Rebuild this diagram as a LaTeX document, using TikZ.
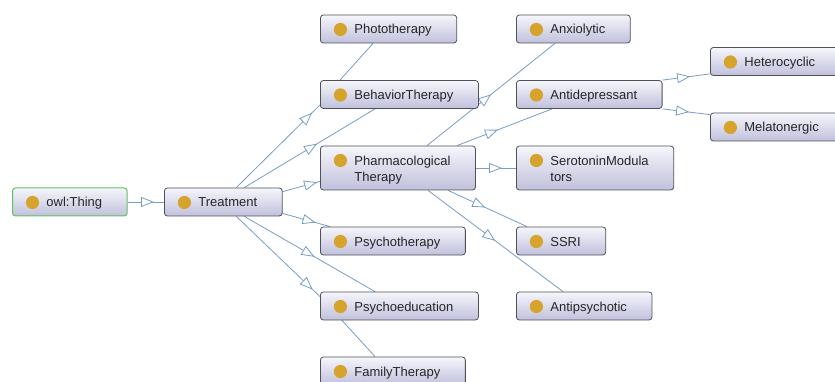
\documentclass[tikz,border=0pt]{standalone}
\usepackage{fontspec}
\setmainfont{Liberation Sans}
\usetikzlibrary{arrows.meta, calc, backgrounds, decorations.markings}
\definecolor{boxline}{RGB}{80,80,90}
\definecolor{boxtop}{RGB}{246,246,252}
\definecolor{boxbot}{RGB}{192,192,220}
\definecolor{thingline}{RGB}{95,195,95}
\definecolor{isacol}{RGB}{120,158,196}
\definecolor{dotcol}{RGB}{214,163,44}
\tikzset{
	x=1pt, y=-1pt, semithick,
	cls/.style ={anchor=west, draw=boxline, line width=0.8pt, rounded corners=3pt, top color=boxtop, bottom color=boxbot,
		minimum height=28pt, inner xsep=25pt, inner ysep=8pt, align=left, text=black!85,
		text height=10pt, text depth=0pt,
		font=\fontsize{13}{16}\selectfont, execute at begin node={\hspace*{9pt}},
		path picture={\fill[dotcol] ([shift={(20pt,-14.5pt)}]path picture bounding box.north west) circle (6.6pt);}},
	cls2/.style = {cls, text height=27.7pt, text depth=0.3pt},
	root/.style = {cls, draw=thingline, line width=1pt},
	tri/.tip = {Triangle[length=13pt, width=10pt, fill=white]},
	isa/.style = {draw=isacol, line width=0.8pt, rounded corners=0pt,
		postaction={decorate, decoration={markings, mark=at position #1 with {\arrow{tri}}}}}
}

\begin{document}
\begin{tikzpicture}
		\useasboundingbox (0,0) rectangle (835,382);
		\node[root] (thing) at (12,202) {owl:Thing};
		\node[cls] (treat) at (164,202) {Treatment};

		\node[cls] (photo) at (320,29) {Phototherapy};
		\node[cls] (behav) at (320,94.5) {BehaviorTherapy};
		\node[cls2] (pharm) at (320,168) {Pharmacological\\Therapy};
		\node[cls] (psyth) at (320,241) {Psychotherapy};
		\node[cls] (psyed) at (320,306) {Psychoeducation};
		\node[cls] (fam) at (320,371) {FamilyTherapy};

		\node[cls] (anxio) at (516,29) {Anxiolytic};
		\node[cls] (antidep) at (516,94.5) {Antidepressant};
		\node[cls2] (sero) at (516,168) {SerotoninModula\\tors};
		\node[cls] (ssri) at (516,241) {SSRI};
		\node[cls] (antipsy) at (516,306) {Antipsychotic};

		\node[cls] (hetero) at (710,61.5) {Heterocyclic};
		\node[cls] (melat) at (710,127) {Melatonergic};

		\begin{scope}[on background layer]
		\fill[white] (0,0) rectangle (835,382);
		% subclass edges
		\path[isa=-10pt] (thing) -- (treat);
		\path[isa=-11pt] ([xshift=13pt]treat.north) -- ([yshift=4pt]behav.south west);
		\path[isa=85pt] ([xshift=21pt]treat.north) -- ([xshift=55pt]behav.south west)
			-- ([xshift=20pt]behav.north west) -- ([xshift=53pt]photo.south west);
		\path[isa=-3pt] ([yshift=-4pt]treat.north east) -- ([yshift=9pt]pharm.south west);
		\path[isa=-15pt] ([yshift=3pt]treat.south east) -- ([xshift=10pt]psyth.north west);
		\path[isa=-10pt] ([xshift=13pt]treat.south) -- ([yshift=-5pt]psyed.north west);
		\path[isa=81pt] ([xshift=21pt]treat.south) -- ([xshift=55pt]psyed.north west)
			-- ([xshift=22pt]psyed.south west) -- ([xshift=55pt]fam.north west);

		\path[isa=82pt] ([xshift=107pt]pharm.north west) -- ([xshift=39pt]anxio.south west);
		\path[isa=44pt] ([xshift=137pt]pharm.north west) -- ([xshift=36pt]antidep.south west);
		\path[isa=-14pt] (pharm) -- (sero);
		\path[isa=41pt] ([xshift=128pt]pharm.south west) -- ([xshift=11pt]ssri.north west);
		\path[isa=84pt] ([xshift=108pt]pharm.south west) -- ([xshift=47pt]antipsy.north west);

		\path[isa=-20pt] (antidep.north east) -- ([yshift=2pt]hetero.south west);
		\path[isa=-21pt] (antidep.south east) -- ([yshift=-2pt]melat.north west);
		\end{scope}
\end{tikzpicture}
\end{document}
